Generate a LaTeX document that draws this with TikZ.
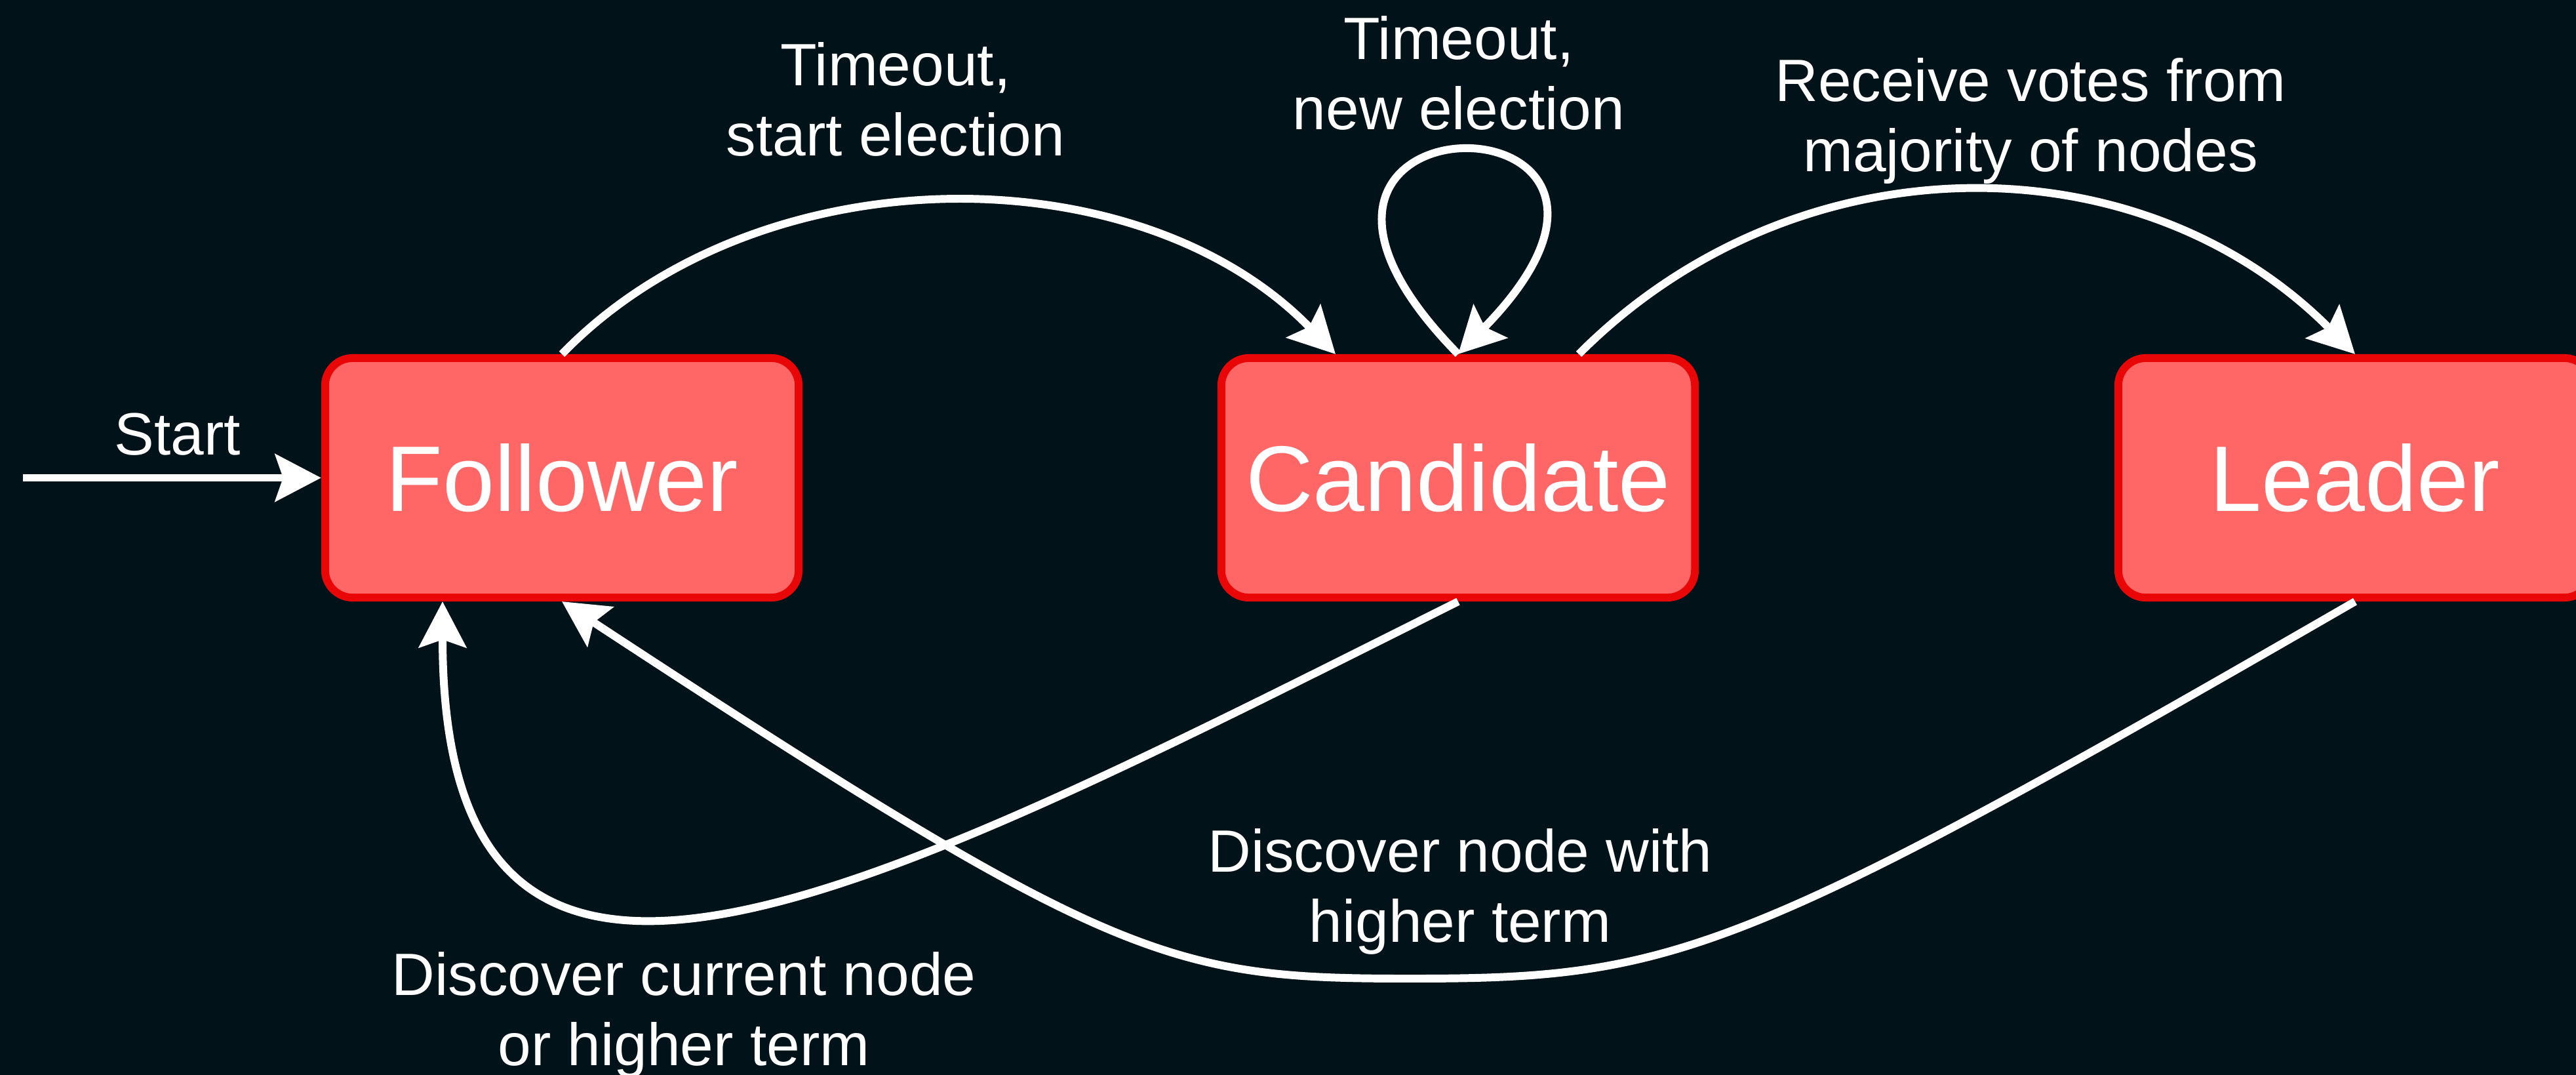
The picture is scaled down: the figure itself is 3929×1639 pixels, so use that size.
\documentclass[tikz,border=0pt]{standalone}
\usepackage{fontspec}
\setmainfont{Liberation Sans}
\usetikzlibrary{arrows.meta,calc}
\definecolor{bgdark}{RGB}{1,18,24}
\definecolor{statefill}{RGB}{255,102,102}
\definecolor{stateedge}{RGB}{232,6,6}
\begin{document}
\begin{tikzpicture}[x=0.01cm,y=-0.01cm,
  state/.style={draw=stateedge, fill=statefill, line width=3.4pt,
    rounded corners=0.42cm, minimum width=7.22cm, minimum height=3.65cm,
    inner sep=0pt, text=white, font=\fontsize{40.4}{48}\selectfont},
  edgelbl/.style={text=white, inner sep=0pt, align=center,
    font=\fontsize{25.9}{30.4}\selectfont},
  link/.style={draw=white, line width=3.4pt,
    -{Stealth[length=0.7cm,width=0.72cm,inset=0.12cm]}}]

% canvas
\fill[bgdark] (0,0) rectangle (3929,1639);
\useasboundingbox (0,0) rectangle (3929,1639);

% states
\node[state] (fol)  at (857,728.5)  {Follower};
\node[state] (cand) at (2224,728.5) {Candidate};
\node[state] (lead) at (3592,728.5) {Leader};

% transitions
\coordinate (entry) at (35,728.5);
\draw[link] (entry) -- (fol.west);

\draw[link] (fol.north) .. controls +(300,-309) and +(-300,-309)
  .. ($(cand.north)+(-187,0)$);

\draw[link] (cand.north) .. controls +(-405,-412) and +(405,-412) .. (cand.north);

\draw[link] ($(cand.north)+(184,0)$) .. controls +(330,-331) and +(-330,-331)
  .. (lead.north);

\draw[link] (cand.south) .. controls +(-924,463) and +(0,789)
  .. ($(fol.south)+(-182,0)$);

\coordinate (dip) at (2150,1492);
\draw[link] (lead.south) .. controls +(-946,546) and +(401,0) .. (dip)
  .. controls +(-367,0) and +(841,552) .. (fol.south);

% labels
\node[edgelbl, anchor=base] (lstart) at (271,693) {Start};
\node[edgelbl, anchor=north] (lstartel) at (1366,64) {Timeout,\\start election};
\node[edgelbl, anchor=north] (lnewel) at (2225,24) {Timeout,\\new election};
\node[edgelbl, anchor=north] (lvotes) at (3097,88) {Receive votes from\\majority of nodes};
\node[edgelbl, anchor=north] (lhigher) at (2227,1263) {Discover node with\\higher term};
\node[edgelbl, anchor=north] (lcurrent) at (1043,1451) {Discover current node\\or higher term};
\end{tikzpicture}
\end{document}
